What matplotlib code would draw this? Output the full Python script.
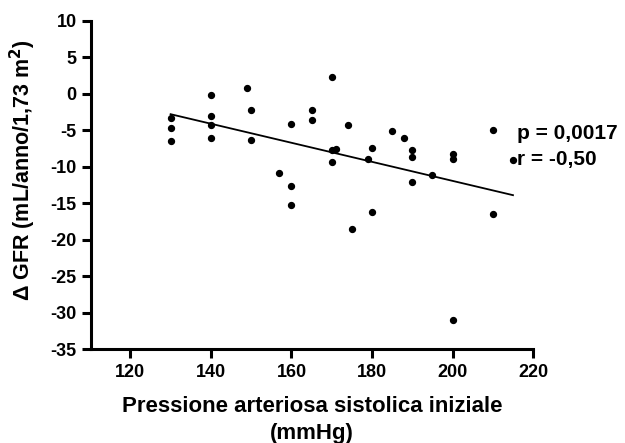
import numpy as np
import matplotlib
matplotlib.use("Agg")
import matplotlib.pyplot as plt

plt.rcParams['font.family'] = ['Liberation Sans', 'DejaVu Sans']
plt.rcParams['font.weight'] = 'bold'
plt.rcParams['axes.unicode_minus'] = False

# Data
sbp = [130, 130, 130, 140, 140, 140, 140, 149, 150, 150, 157, 160, 160, 160,
       165, 165, 170, 170, 171, 170, 174, 175, 179, 180, 180, 185, 188,
       190, 190, 190, 195, 200, 200, 200, 210, 210, 215]
dgfr = [-3.3, -4.7, -6.5, -0.2, -3.0, -4.3, -6.0, 0.8, -2.2, -6.4, -10.9, -12.6,
        -15.2, -4.2, -2.2, -3.6, 2.3, -7.7, -7.6, -9.4, -4.3, -18.5, -9.0, -7.4,
        -16.2, -5.1, -6.1, -7.7, -8.6, -12.1, -11.2, -8.3, -9.0, -31.0, -4.9,
        -16.5, -9.1]

# regression line endpoints
fit_x = [130, 215]
fit_y = [-2.8, -13.9]

xticks = [120, 140, 160, 180, 200, 220]
yticks = [10, 5, 0, -5, -10, -15, -20, -25, -30, -35]

fig = plt.figure(figsize=(6.25, 4.43), dpi=100)
ax = fig.add_axes([0.146, 0.212, 0.707, 0.741])

ax.scatter(sbp, dgfr, s=18, color="black", zorder=3, clip_on=False)
ax.plot(fit_x, fit_y, color="black", lw=1.3)

ax.set_xlim(110.3, 220)
ax.set_ylim(-35, 10)
ax.set_xticks(xticks)
ax.set_yticks(yticks)
ax.spines["top"].set_visible(False)
ax.spines["right"].set_visible(False)
for s in ["left", "bottom"]:
    ax.spines[s].set_linewidth(2.2)
ax.tick_params(width=2.2, length=6.5, labelsize=13, pad=4)
for lab in ax.get_xticklabels() + ax.get_yticklabels():
    lab.set_fontweight("bold")

ax.set_xlabel("Pressione arteriosa sistolica iniziale\n(mmHg)", fontsize=16,
              fontweight="bold", linespacing=1.35, labelpad=11)
ax.set_ylabel("Δ GFR (mL/anno/1,73 m$^\\mathbf{2}$)", fontsize=15.5,
              fontweight="bold")
ax.yaxis.set_label_coords(-0.12, 0.546)

ax.text(0.963, 0.656, "p = 0,0017", transform=ax.transAxes, fontsize=15,
        fontweight="bold", clip_on=False, va="center", ha="left")
ax.text(0.963, 0.577, "r = -0,50", transform=ax.transAxes, fontsize=15,
        fontweight="bold", clip_on=False, va="center", ha="left")

fig.savefig("out.png", dpi=100)
